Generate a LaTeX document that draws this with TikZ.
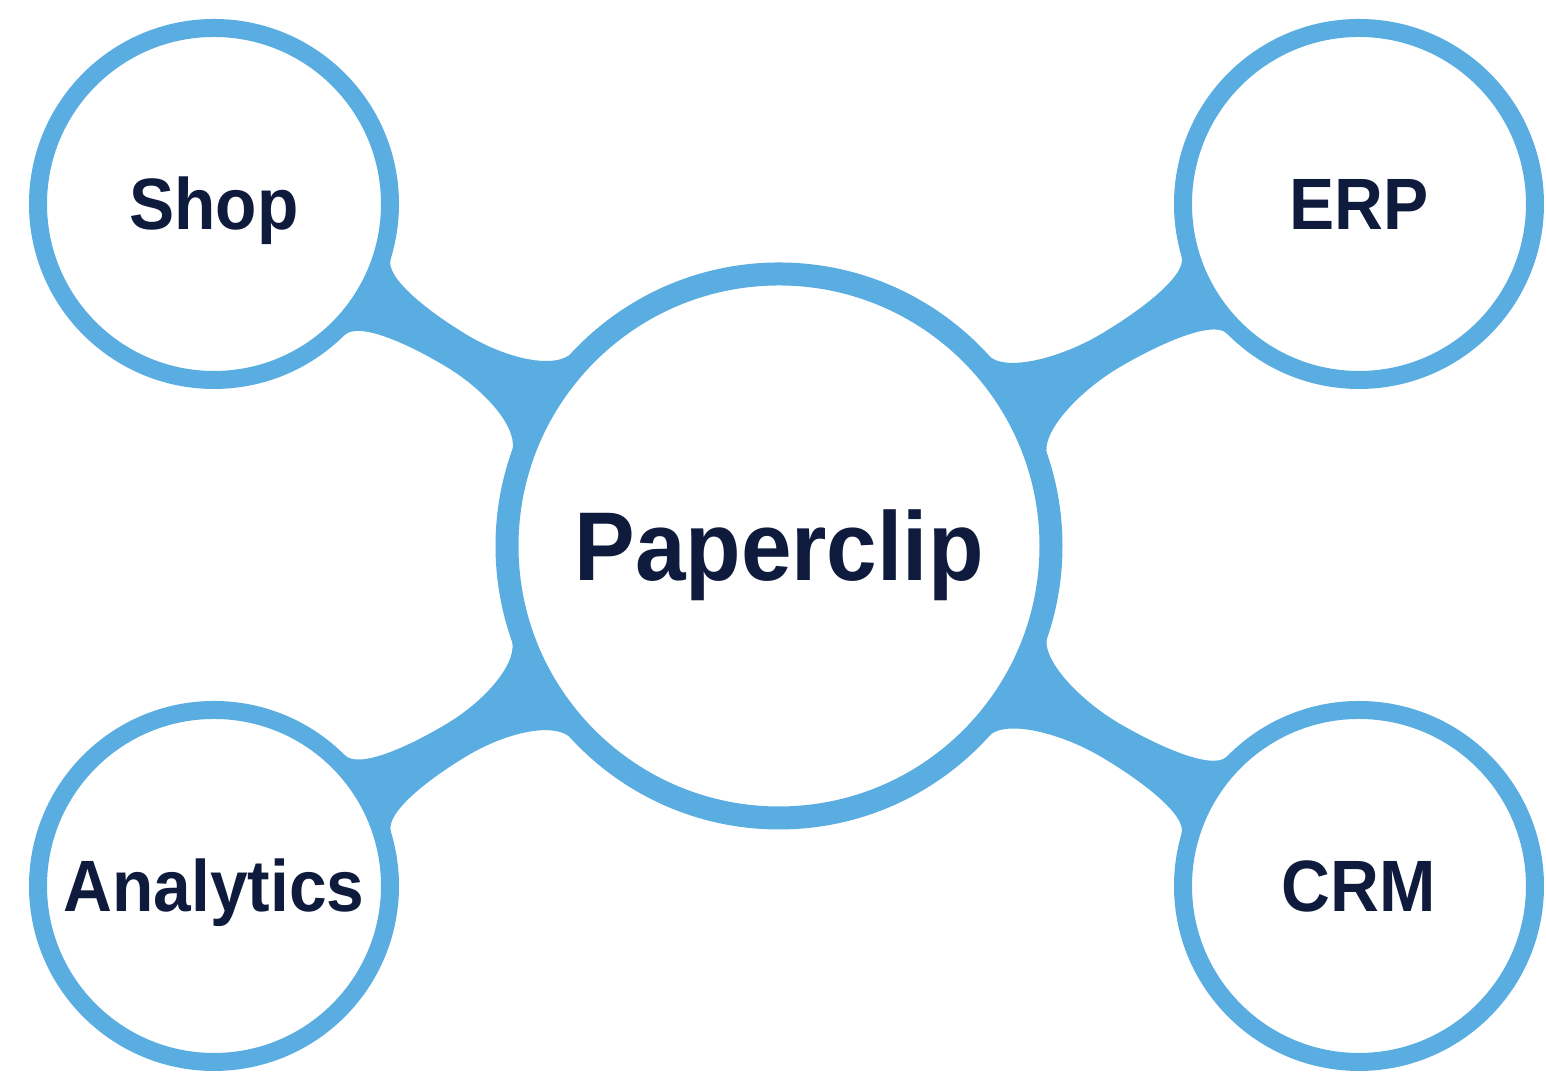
\documentclass[tikz,border=0pt]{standalone}
\usepackage{fontspec}
\setmainfont[FakeStretch=0.93]{Liberation Sans}
\usetikzlibrary{calc, positioning, backgrounds}
\definecolor{ringblue}{RGB}{90,173,224}
\definecolor{textnavy}{RGB}{14,27,61}
\tikzset{
  hub/.style={circle, draw=ringblue, line width=0.23cm, fill=white, minimum size=5.44cm,
    text=textnavy, font=\fontsize{27.8}{32}\selectfont\bfseries, text height=19.9pt, text depth=0pt},
  app/.style={circle, draw=ringblue, line width=0.18cm, fill=white, minimum size=3.52cm,
    text=textnavy, font=\fontsize{20.7}{24}\selectfont\bfseries, text height=14.8pt, text depth=0pt},
  bridge/.style={fill=ringblue}
}
\begin{document}
\begin{tikzpicture}
\useasboundingbox (0,0) rectangle (15.46,10.75);
%
\node[hub] (paperclip) at (7.79,5.29) {Paperclip};
\node[app] (shop)      at (2.14,8.71)  {Shop};
\node[app] (erp)       at (13.59,8.71) {ERP};
\node[app] (analytics) at (2.14,1.89)  {Analytics};
\node[app] (crm)       at (13.59,1.89) {CRM};
% bridges hub -> app, angle of the app seen from the hub
\begin{scope}[on background layer]
\foreach \n/\a in {shop/148.8, erp/30.5, analytics/211.0, crm/-30.4} {
  \coordinate (m) at ($(paperclip.center)!0.57!(\n.center)$);
  \fill[bridge] ($(paperclip.center)+(\a+12:2.83)$)
      .. controls +(\a-78:0.25) and +(\a+180:0.45) .. ($(m)+(\a+90:0.19)$)
      .. controls +(\a:0.45) and +(\a+256:0.2) .. ($(\n.center)+(\a+166:1.85)$)
      -- ($(\n.center)+(\a+194:1.85)$)
      .. controls +(\a+104:0.2) and +(\a:0.45) .. ($(m)+(\a-90:0.19)$)
      .. controls +(\a+180:0.45) and +(\a+78:0.25) .. ($(paperclip.center)+(\a-12:2.83)$) -- cycle;
}
\end{scope}
\end{tikzpicture}
\end{document}
